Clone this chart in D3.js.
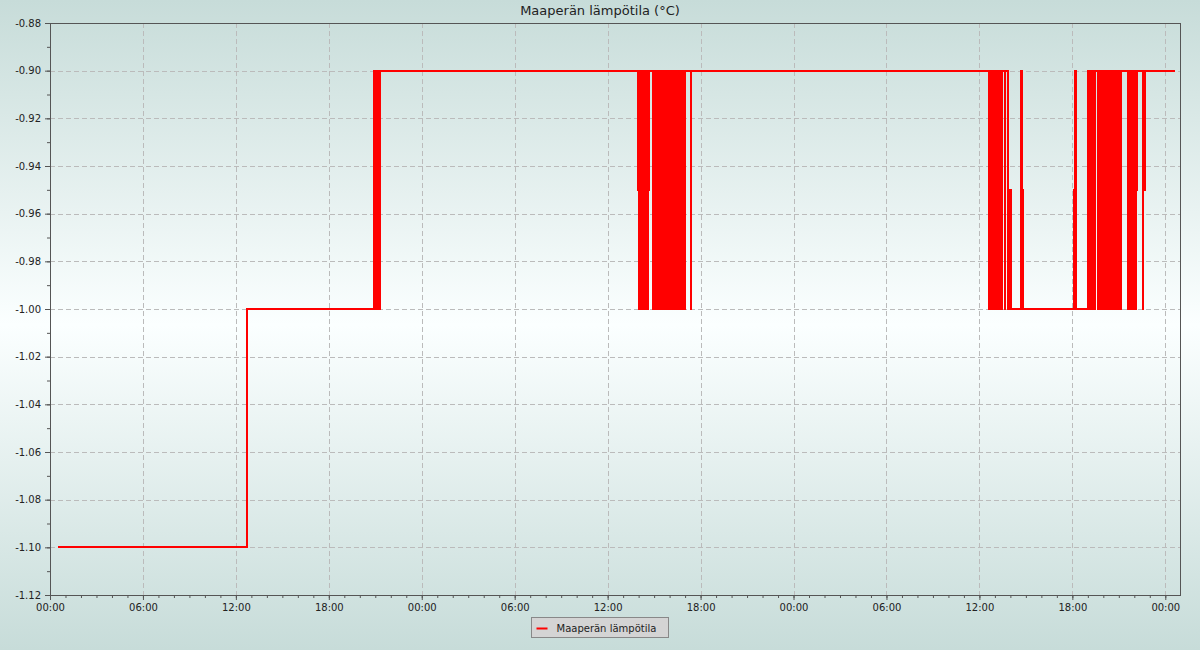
<!DOCTYPE html>
<html>
<head>
<meta charset="utf-8">
<script src="https://cdn.jsdelivr.net/npm/d3@7"></script>
<style>
  html, body { margin: 0; padding: 0; }
  body { width: 1200px; height: 650px; overflow: hidden; font-family: "DejaVu Sans", sans-serif; }
</style>
</head>
<body>
<div id="chart"></div>
<script>
// Chart data: step changes of soil temperature, [time, value] per change
var chartTitle = "Maaperän lämpötila (°C)";
var seriesName = "Maaperän lämpötila";

var day1 = [
  ["2024-01-15 00:36", -1.10], ["2024-01-15 12:43", -1.00],
  ["2024-01-15 20:55", -0.90], ["2024-01-15 20:58", -1.00], ["2024-01-15 21:01", -0.90],
  ["2024-01-15 21:04", -1.00], ["2024-01-15 21:07", -0.90], ["2024-01-15 21:10", -1.00],
  ["2024-01-15 21:13", -0.90], ["2024-01-15 21:16", -1.00], ["2024-01-15 21:18", -0.90]
];

var day2 = [
  ["2024-01-16 13:57", -0.95], ["2024-01-16 13:59", -0.90], ["2024-01-16 14:01", -1.00],
  ["2024-01-16 14:03", -0.95], ["2024-01-16 14:05", -0.90], ["2024-01-16 14:07", -0.95],
  ["2024-01-16 14:09", -0.90], ["2024-01-16 14:11", -1.00], ["2024-01-16 14:14", -0.90],
  ["2024-01-16 14:17", -1.00], ["2024-01-16 14:20", -0.95], ["2024-01-16 14:23", -1.00],
  ["2024-01-16 14:26", -0.90], ["2024-01-16 14:29", -1.00], ["2024-01-16 14:32", -0.90],
  ["2024-01-16 14:35", -1.00], ["2024-01-16 14:37", -0.95], ["2024-01-16 14:39", -0.90],
  ["2024-01-16 14:55", -1.00], ["2024-01-16 14:58", -0.90], ["2024-01-16 15:01", -1.00],
  ["2024-01-16 15:04", -0.90], ["2024-01-16 15:07", -1.00], ["2024-01-16 15:10", -0.90],
  ["2024-01-16 15:13", -1.00], ["2024-01-16 15:16", -0.90], ["2024-01-16 15:19", -1.00],
  ["2024-01-16 15:22", -0.90], ["2024-01-16 15:25", -1.00], ["2024-01-16 15:28", -0.90],
  ["2024-01-16 15:31", -1.00], ["2024-01-16 15:34", -0.90], ["2024-01-16 15:37", -1.00],
  ["2024-01-16 15:40", -0.90], ["2024-01-16 15:43", -1.00], ["2024-01-16 15:46", -0.90],
  ["2024-01-16 15:49", -1.00], ["2024-01-16 15:52", -0.90], ["2024-01-16 15:55", -1.00],
  ["2024-01-16 15:58", -0.90], ["2024-01-16 16:01", -1.00], ["2024-01-16 16:04", -0.90],
  ["2024-01-16 16:07", -1.00], ["2024-01-16 16:10", -0.90], ["2024-01-16 16:13", -1.00],
  ["2024-01-16 16:16", -0.90], ["2024-01-16 16:19", -1.00], ["2024-01-16 16:22", -0.90],
  ["2024-01-16 16:25", -1.00], ["2024-01-16 16:28", -0.90], ["2024-01-16 16:31", -1.00],
  ["2024-01-16 16:34", -0.90], ["2024-01-16 16:37", -1.00], ["2024-01-16 16:40", -0.90],
  ["2024-01-16 16:43", -1.00], ["2024-01-16 16:46", -0.90], ["2024-01-16 16:49", -1.00],
  ["2024-01-16 16:52", -0.90], ["2024-01-16 16:55", -1.00], ["2024-01-16 16:59", -0.90],
  ["2024-01-16 17:22", -1.00], ["2024-01-16 17:24", -0.90]
];

var day3 = [
  ["2024-01-17 12:39", -1.00], ["2024-01-17 12:42", -0.90], ["2024-01-17 12:45", -1.00],
  ["2024-01-17 12:48", -0.90], ["2024-01-17 12:51", -1.00], ["2024-01-17 12:54", -0.90],
  ["2024-01-17 12:57", -1.00], ["2024-01-17 13:00", -0.90], ["2024-01-17 13:03", -1.00],
  ["2024-01-17 13:06", -0.90], ["2024-01-17 13:09", -1.00], ["2024-01-17 13:12", -0.90],
  ["2024-01-17 13:15", -1.00], ["2024-01-17 13:18", -0.90], ["2024-01-17 13:21", -1.00],
  ["2024-01-17 13:24", -0.90], ["2024-01-17 13:27", -1.00], ["2024-01-17 13:29", -0.90],
  ["2024-01-17 13:40", -1.00], ["2024-01-17 13:41", -0.90], ["2024-01-17 13:49", -1.00],
  ["2024-01-17 13:57", -0.95], ["2024-01-17 14:04", -1.00],
  ["2024-01-17 14:42", -0.90], ["2024-01-17 14:45", -0.95], ["2024-01-17 14:49", -1.00],
  ["2024-01-17 18:05", -0.95], ["2024-01-17 18:10", -0.90], ["2024-01-17 18:15", -1.00],
  ["2024-01-17 18:59", -0.90], ["2024-01-17 19:02", -1.00], ["2024-01-17 19:05", -0.90],
  ["2024-01-17 19:08", -1.00], ["2024-01-17 19:11", -0.90], ["2024-01-17 19:14", -1.00],
  ["2024-01-17 19:17", -0.90], ["2024-01-17 19:20", -1.00], ["2024-01-17 19:23", -0.90],
  ["2024-01-17 19:25", -1.00], ["2024-01-17 19:27", -0.90], ["2024-01-17 19:38", -1.00],
  ["2024-01-17 19:41", -0.90], ["2024-01-17 19:44", -1.00], ["2024-01-17 19:47", -0.90],
  ["2024-01-17 19:50", -1.00], ["2024-01-17 19:53", -0.90], ["2024-01-17 19:56", -1.00],
  ["2024-01-17 19:59", -0.90], ["2024-01-17 20:02", -1.00], ["2024-01-17 20:05", -0.90],
  ["2024-01-17 20:08", -1.00], ["2024-01-17 20:11", -0.90], ["2024-01-17 20:14", -1.00],
  ["2024-01-17 20:17", -0.90], ["2024-01-17 20:20", -1.00], ["2024-01-17 20:23", -0.90],
  ["2024-01-17 20:26", -1.00], ["2024-01-17 20:29", -0.90], ["2024-01-17 20:32", -1.00],
  ["2024-01-17 20:35", -0.90], ["2024-01-17 20:38", -1.00], ["2024-01-17 20:41", -0.90],
  ["2024-01-17 20:44", -1.00], ["2024-01-17 20:47", -0.90], ["2024-01-17 20:50", -1.00],
  ["2024-01-17 20:53", -0.90], ["2024-01-17 20:56", -1.00], ["2024-01-17 20:59", -0.90],
  ["2024-01-17 21:02", -1.00], ["2024-01-17 21:05", -0.90], ["2024-01-17 21:08", -1.00],
  ["2024-01-17 21:10", -0.90],
  ["2024-01-17 21:34", -1.00], ["2024-01-17 21:37", -0.90], ["2024-01-17 21:40", -1.00],
  ["2024-01-17 21:43", -0.95], ["2024-01-17 21:46", -0.90], ["2024-01-17 21:49", -0.95],
  ["2024-01-17 21:52", -1.00], ["2024-01-17 21:54", -0.90], ["2024-01-17 21:57", -0.95],
  ["2024-01-17 22:00", -0.90], ["2024-01-17 22:03", -1.00], ["2024-01-17 22:06", -0.95],
  ["2024-01-17 22:09", -0.90],
  ["2024-01-17 22:32", -1.00], ["2024-01-17 22:35", -0.95], ["2024-01-17 22:40", -0.90]
];

var day4 = [
  ["2024-01-18 00:35", -0.90]
];

var xStart = "2024-01-15 00:00";
var xEnd = "2024-01-18 00:57";
var yTicks = [-1.12, -1.10, -1.08, -1.06, -1.04, -1.02, -1.00, -0.98, -0.96, -0.94, -0.92, -0.90, -0.88];

var width = 1200, height = 650;
var margin = { top: 23, right: 20, bottom: 55, left: 50 };
var innerW = width - margin.left - margin.right;
var innerH = height - margin.top - margin.bottom;

var parse = d3.timeParse("%Y-%m-%d %H:%M");
var data = day1.concat(day2, day3, day4).map(function(d) { return { t: parse(d[0]), v: d[1] }; });

var svg = d3.select("#chart").append("svg")
  .attr("width", width)
  .attr("height", height);

// background gradient
var defs = svg.append("defs");
var grad = defs.append("linearGradient")
  .attr("id", "bg")
  .attr("x1", 0).attr("y1", 0).attr("x2", 0).attr("y2", 1);
grad.append("stop").attr("offset", "0%").attr("stop-color", "#c7dcd9");
grad.append("stop").attr("offset", "50%").attr("stop-color", "#fbffff");
grad.append("stop").attr("offset", "100%").attr("stop-color", "#c7dcd9");

defs.append("clipPath").attr("id", "clip")
  .append("rect").attr("width", innerW).attr("height", innerH);

svg.append("rect")
  .attr("width", width).attr("height", height)
  .attr("fill", "url(#bg)");

var x = d3.scaleTime()
  .domain([parse(xStart), parse(xEnd)])
  .range([0, innerW]);

var y = d3.scaleLinear()
  .domain([-1.12, -0.88])
  .range([innerH, 0]);

var g = svg.append("g")
  .attr("transform", "translate(" + margin.left + "," + margin.top + ")");

// grid
var majorX = x.ticks(d3.timeHour.every(6));
g.append("g").selectAll("line")
  .data(majorX.filter(function(d) { return x(d) > 1 && x(d) < innerW - 1; }))
  .enter().append("line")
  .attr("x1", function(d) { return Math.round(x(d)) + 0.5; })
  .attr("x2", function(d) { return Math.round(x(d)) + 0.5; })
  .attr("y1", 0).attr("y2", innerH)
  .attr("stroke", "#bbbbbb")
  .attr("stroke-dasharray", "5,3");

g.append("g").selectAll("line")
  .data(yTicks.filter(function(d) { return d > -1.119 && d < -0.881; }))
  .enter().append("line")
  .attr("x1", 0).attr("x2", innerW)
  .attr("y1", function(d) { return Math.round(y(d)) + 0.5; })
  .attr("y2", function(d) { return Math.round(y(d)) + 0.5; })
  .attr("stroke", "#bbbbbb")
  .attr("stroke-dasharray", "5,3");

// the series, drawn as separate step segments so dense switching stays solid
var segs = [];
data.forEach(function(d, i) {
  if (i === 0) return;
  var p = data[i - 1];
  segs.push({ x1: x(p.t), y1: y(p.v), x2: x(d.t), y2: y(p.v) });
  if (d.v !== p.v) segs.push({ x1: x(d.t), y1: y(p.v), x2: x(d.t), y2: y(d.v) });
});

g.append("g")
  .attr("clip-path", "url(#clip)")
  .selectAll("line")
  .data(segs)
  .enter().append("line")
  .attr("x1", function(d) { return d.x1; })
  .attr("y1", function(d) { return d.y1; })
  .attr("x2", function(d) { return d.x2; })
  .attr("y2", function(d) { return d.y2; })
  .attr("stroke", "#ff0000")
  .attr("stroke-width", 2)
  .attr("stroke-linecap", "square")
  .attr("shape-rendering", "crispEdges");

// frame
g.append("rect")
  .attr("x", 0.5).attr("y", 0.5)
  .attr("width", innerW).attr("height", innerH)
  .attr("fill", "none")
  .attr("stroke", "#555555");

// axes
var xMinor = g.append("g")
  .attr("transform", "translate(0," + innerH + ")")
  .call(d3.axisBottom(x).ticks(d3.timeHour.every(1)).tickSize(3).tickFormat(""));

var xAxis = g.append("g")
  .attr("transform", "translate(0," + innerH + ")")
  .call(d3.axisBottom(x).ticks(d3.timeHour.every(6)).tickSize(5).tickPadding(4)
    .tickFormat(d3.timeFormat("%H:%M")));

var yMinor = g.append("g")
  .call(d3.axisLeft(y).ticks(24).tickSize(3).tickFormat(""));

var yAxis = g.append("g")
  .call(d3.axisLeft(y).tickValues(yTicks).tickSize(5).tickPadding(4)
    .tickFormat(d3.format(".2f")));

[xMinor, xAxis, yMinor, yAxis].forEach(function(a) {
  a.select(".domain").remove();
  a.selectAll(".tick line").attr("stroke", "#555555");
  a.selectAll("text")
    .attr("fill", "#222222")
    .style("font-family", "DejaVu Sans")
    .style("font-size", "10px");
});
yAxis.selectAll("text").text(function(d) { return d3.format(".2f")(d).replace("−", "-"); });

// title
svg.append("text")
  .attr("x", width / 2)
  .attr("y", 15)
  .attr("text-anchor", "middle")
  .attr("fill", "#222222")
  .style("font-family", "DejaVu Sans")
  .style("font-size", "13px")
  .text(chartTitle);

// legend
var legend = svg.append("g").attr("transform", "translate(531.5,617.5)");
legend.append("rect")
  .attr("width", 137).attr("height", 20)
  .attr("fill", "#d4d4d4")
  .attr("stroke", "#888888");
legend.append("line")
  .attr("x1", 5).attr("x2", 16)
  .attr("y1", 11).attr("y2", 11)
  .attr("stroke", "#ff0000").attr("stroke-width", 2);
legend.append("text")
  .attr("x", 25).attr("y", 14)
  .attr("fill", "#222222")
  .style("font-family", "DejaVu Sans")
  .style("font-size", "10px")
  .text(seriesName);
</script>
</body>
</html>
